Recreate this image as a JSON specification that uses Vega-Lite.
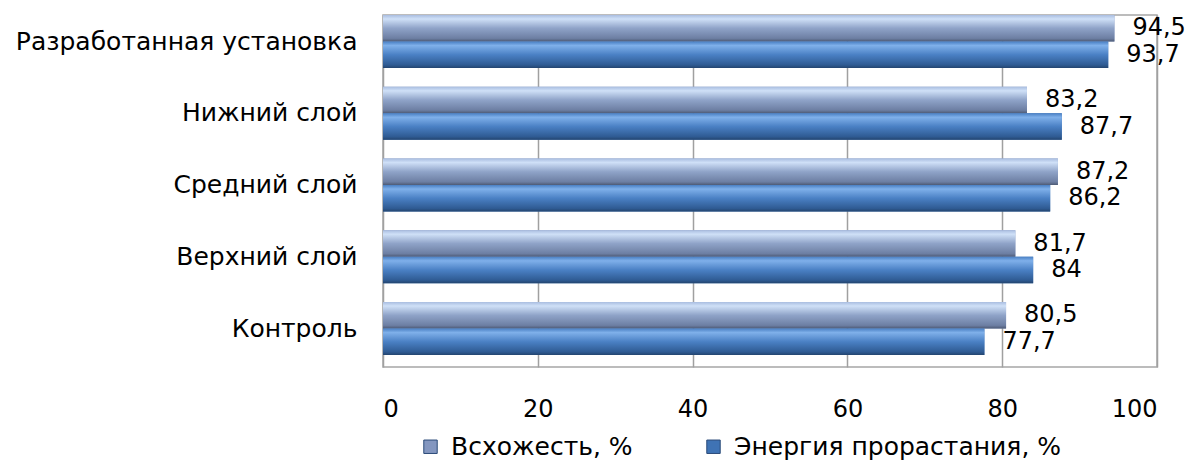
{
  "$schema": "https://vega.github.io/schema/vega-lite/v6.json",
  "width": 774,
  "height": 352,
  "autosize": "none",
  "padding": {"left": 383, "top": 15, "right": 34, "bottom": 93},
  "background": "white",
  "config": {
    "view": {"stroke": "#a6a6a6", "strokeWidth": 1.5},
    "font": "DejaVu Sans"
  },
  "data": {
    "values": [
      {"cat": "Разработанная установка", "series": "Всхожесть, %", "value": 94.5, "label": "94,5"},
      {"cat": "Разработанная установка", "series": "Энергия прорастания, %", "value": 93.7, "label": "93,7"},
      {"cat": "Нижний слой", "series": "Всхожесть, %", "value": 83.2, "label": "83,2"},
      {"cat": "Нижний слой", "series": "Энергия прорастания, %", "value": 87.7, "label": "87,7"},
      {"cat": "Средний слой", "series": "Всхожесть, %", "value": 87.2, "label": "87,2"},
      {"cat": "Средний слой", "series": "Энергия прорастания, %", "value": 86.2, "label": "86,2"},
      {"cat": "Верхний слой", "series": "Всхожесть, %", "value": 81.7, "label": "81,7"},
      {"cat": "Верхний слой", "series": "Энергия прорастания, %", "value": 84, "label": "84"},
      {"cat": "Контроль", "series": "Всхожесть, %", "value": 80.5, "label": "80,5"},
      {"cat": "Контроль", "series": "Энергия прорастания, %", "value": 77.7, "label": "77,7"}
    ]
  },
  "encoding": {
    "y": {
      "field": "cat",
      "type": "nominal",
      "sort": ["Разработанная установка", "Нижний слой", "Средний слой", "Верхний слой", "Контроль"],
      "scale": {"paddingInner": 0.26, "paddingOuter": 0.083, "align": 0},
      "axis": {"title": null, "labelFontSize": 25, "labelColor": "black", "labelLimit": 400, "ticks": false, "domain": false, "labelPadding": 26, "grid": false}
    },
    "yOffset": {
      "field": "series",
      "type": "nominal",
      "sort": ["Всхожесть, %", "Энергия прорастания, %"],
      "scale": {"paddingInner": 0, "paddingOuter": 0}
    },
    "x": {
      "field": "value",
      "type": "quantitative",
      "scale": {"domain": [0, 100]},
      "axis": {
        "title": null,
        "values": [0, 20, 40, 60, 80, 100],
        "labelFontSize": 24,
        "labelColor": "black",
        "ticks": false,
        "domain": false,
        "labelPadding": 30,
        "grid": true,
        "gridColor": "#a0a0a0",
        "gridWidth": 1.5
      }
    }
  },
  "layer": [
    {
      "mark": {"type": "bar"},
      "encoding": {
        "color": {
          "field": "series",
          "type": "nominal",
          "scale": {"domain": ["Всхожесть, %", "Энергия прорастания, %"], "range": ["#8497c0", "#3f73b5"]},
          "legend": {
            "orient": "none",
            "legendX": 35,
            "legendY": 419,
            "direction": "horizontal",
            "title": null,
            "labelFontSize": 25,
            "labelColor": "black",
            "labelLimit": 400,
            "symbolType": "square",
            "symbolSize": 180,
            "symbolStrokeColor": "#2a4a78",
            "symbolStrokeWidth": 1,
            "columnPadding": 68,
            "labelOffset": 8
          }
        }
      }
    },
    {
      "transform": [{"filter": "datum.series === 'Всхожесть, %'"}],
      "mark": {
        "type": "bar",
        "color": {
          "gradient": "linear", "x1": 0, "y1": 0, "x2": 0, "y2": 1,
          "stops": [
            {"offset": 0, "color": "#a9bde0"},
            {"offset": 0.15, "color": "#cfe0f7"},
            {"offset": 0.5, "color": "#8fa3c8"},
            {"offset": 0.88, "color": "#6d7fa3"},
            {"offset": 1, "color": "#4d5a75"}
          ]
        }
      }
    },
    {
      "transform": [{"filter": "datum.series === 'Энергия прорастания, %'"}],
      "mark": {
        "type": "bar",
        "color": {
          "gradient": "linear", "x1": 0, "y1": 0, "x2": 0, "y2": 1,
          "stops": [
            {"offset": 0, "color": "#4a80c4"},
            {"offset": 0.15, "color": "#7fb0ea"},
            {"offset": 0.5, "color": "#4a80c4"},
            {"offset": 0.88, "color": "#2f5b93"},
            {"offset": 1, "color": "#23446e"}
          ]
        }
      }
    },
    {
      "mark": {"type": "text", "align": "left", "baseline": "middle", "dx": 18, "fontSize": 24, "color": "black"},
      "encoding": {"text": {"field": "label"}}
    }
  ]
}
